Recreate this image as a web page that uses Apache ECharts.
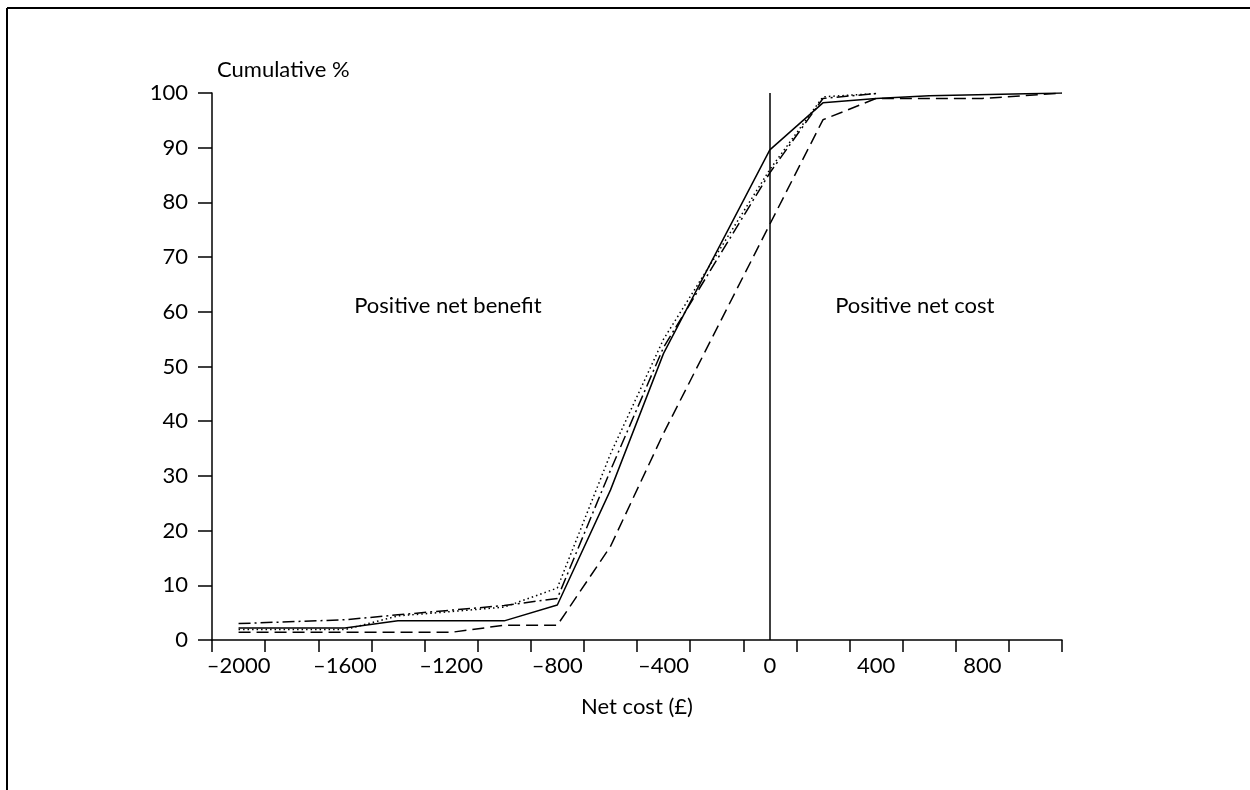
<!DOCTYPE html>
<html>
<head>
<meta charset="utf-8">
<script src="https://cdn.jsdelivr.net/npm/echarts@6/dist/echarts.min.js"></script>
<style>
html,body{margin:0;padding:0;background:#fff;}
#chart{width:1250px;height:790px;}
</style>
</head>
<body>
<div id="chart"></div>
<script>
// ---- data ----
const xTickValues = [-2100,-1900,-1700,-1500,-1300,-1100,-900,-700,-500,-300,-100,100,300,500,700,900,1100];
const xLabelValues = [-2000,-1600,-1200,-800,-400,0,400,800];
const xLabelTexts = ['\u20132000','\u20131600','\u20131200','\u2013800','\u2013400','0','400','800'];
const yTickValues = [0,10,20,30,40,50,60,70,80,90,100];

const seriesSolid = [[-2000,2.2],[-1600,2.2],[-1400,3.5],[-1000,3.5],[-800,6.4],[-600,27.4],[-400,52.4],[0,89.6],[200,98.2],[400,99.0],[600,99.5],[1100,100]];
const seriesDashed = [[-2000,1.4],[-1200,1.4],[-1000,2.7],[-800,2.7],[-600,17.1],[-400,37.8],[0,76],[200,95.1],[400,99.0],[800,99.0],[1100,100]];
const seriesDotted = [[-2000,1.9],[-1600,1.9],[-1400,4.4],[-1000,6.0],[-800,9.5],[-600,34],[-400,55],[0,86],[200,99.3],[400,99.9]];
const seriesDashDot = [[-2000,3.0],[-1600,3.7],[-1400,4.6],[-1000,6.3],[-800,7.6],[-600,31],[-400,53.5],[0,85.4],[200,99.0],[400,99.9]];

const annotations = [
  {name:'Positive net benefit', coord:[-1212, 61]},
  {name:'Positive net cost', coord:[546, 61]}
];
const xName = 'Net cost (\u00a3)';
const yName = 'Cumulative %';

const FONT = 'Lato';
const FS = 22;
const chart = echarts.init(document.getElementById('chart'), null, {renderer:'canvas'});
function lineSeries(data, type, extra){
  return Object.assign({
    type:'line', data:data, symbol:'none', silent:true,
    lineStyle:{color:'#000', width:1.5, type:type},
    z:3
  }, extra||{});
}
chart.setOption({
  animation:false,
  backgroundColor:'#fff',
  graphic:[
    {type:'line', shape:{x1:7,y1:8,x2:1250,y2:8}, style:{stroke:'#000', lineWidth:2}},
    {type:'line', shape:{x1:7,y1:8,x2:7,y2:790}, style:{stroke:'#000', lineWidth:2}}
  ],
  grid:{left:212, right:188, top:93, bottom:150, containLabel:false},
  xAxis:{
    type:'value', min:-2100, max:1100,
    name:xName, nameLocation:'middle', nameGap:56,
    nameTextStyle:{fontFamily:FONT, fontSize:FS, color:'#000'},
    axisLine:{show:true, onZero:false, lineStyle:{color:'#000', width:1.5}},
    axisTick:{show:true, length:12, customValues:xTickValues, lineStyle:{color:'#000', width:1.5}},
    axisLabel:{show:true, customValues:xLabelValues, margin:15, fontFamily:FONT, fontSize:FS, color:'#000',
      formatter:function(v){ const i = xLabelValues.indexOf(v); return i>=0 ? xLabelTexts[i] : ''; }},
    splitLine:{show:false}
  },
  yAxis:{
    type:'value', min:0, max:100, interval:10,
    name:yName, nameLocation:'end', nameGap:12,
    nameTextStyle:{fontFamily:FONT, fontSize:FS, color:'#000', align:'left', padding:[0,0,0,5]},
    axisLine:{show:true, onZero:false, lineStyle:{color:'#000', width:1.5}},
    axisTick:{show:true, length:14, customValues:yTickValues, lineStyle:{color:'#000', width:1.5}},
    axisLabel:{show:true, margin:24, fontFamily:FONT, fontSize:FS, color:'#000'},
    splitLine:{show:false}
  },
  series:[
    lineSeries(seriesSolid, 'solid', {
      markLine:{silent:true, symbol:['none','none'], label:{show:false},
        lineStyle:{color:'#000', width:1.5, type:'solid'}, data:[{xAxis:0}]},
      markPoint:{silent:true, symbol:'circle', symbolSize:0,
        label:{show:true, position:'inside', formatter:'{b}', fontFamily:FONT, fontSize:FS, color:'#000'},
        data:annotations}
    }),
    lineSeries(seriesDashed, [12,6]),
    lineSeries(seriesDotted, [1.5,3]),
    lineSeries(seriesDashDot, [12,4,2,4])
  ]
});
</script>
</body>
</html>
